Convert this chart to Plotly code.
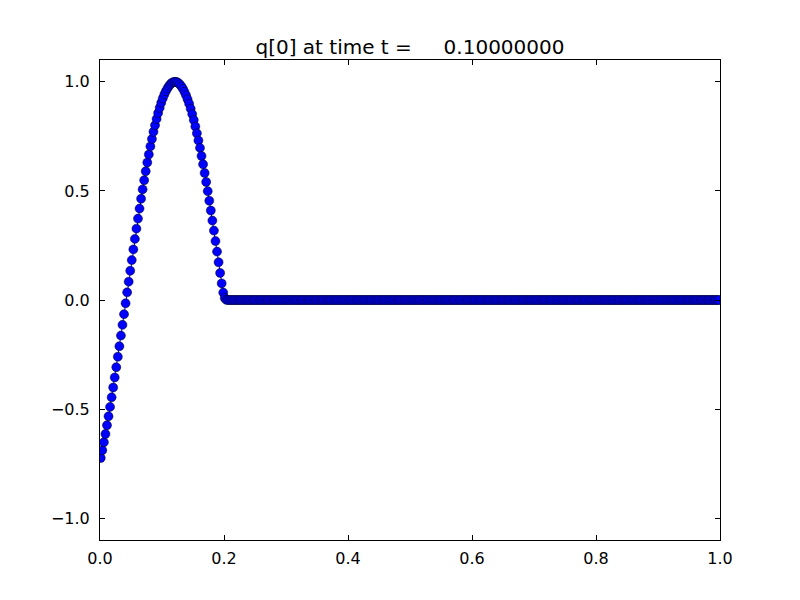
import plotly.graph_objects as go

n_cells = 400
x_centers = [(i + 0.5) / n_cells for i in range(n_cells)]

q_head = [
    -0.724, -0.689, -0.652, -0.614, -0.574, -0.533, -0.490, -0.446, -0.401, -0.355,
    -0.308, -0.260, -0.212, -0.163, -0.114, -0.065, -0.015, 0.035, 0.084, 0.134,
    0.183, 0.232, 0.280, 0.327, 0.373, 0.419, 0.464, 0.507, 0.549, 0.590,
    0.630, 0.667, 0.704, 0.738, 0.771, 0.801, 0.830, 0.857, 0.881, 0.904,
    0.924, 0.942, 0.957, 0.970, 0.981, 0.990, 0.996, 0.999, 1.000, 0.999,
    0.995, 0.988, 0.979, 0.968, 0.954, 0.938, 0.920, 0.900, 0.877, 0.852,
    0.825, 0.795, 0.764, 0.731, 0.697, 0.660, 0.622, 0.582, 0.541, 0.499,
    0.455, 0.410, 0.364, 0.318, 0.270, 0.222, 0.173, 0.124, 0.076, 0.034,
    0.009, 0.001,
]
q_tail = [0.0] * (n_cells - len(q_head))
q_values = q_head + q_tail

x_tick_vals = [0.0, 0.2, 0.4, 0.6, 0.8, 1.0]
x_tick_text = ["0.0", "0.2", "0.4", "0.6", "0.8", "1.0"]
y_tick_vals = [-1.0, -0.5, 0.0, 0.5, 1.0]
y_tick_text = ["\u22121.0", "\u22120.5", "0.0", "0.5", "1.0"]

title_text = "q[0] at time t =     0.10000000"

fig = go.Figure()
fig.add_trace(go.Scatter(
    x=x_centers, y=q_values, mode="lines+markers",
    line=dict(color="#0000ff", width=1),
    marker=dict(size=9, color="#0000ff", line=dict(color="black", width=0.5)),
    showlegend=False,
))

axis_common = dict(
    showgrid=False, zeroline=False, showline=True, linecolor="black", linewidth=1,
    mirror="ticks", ticks="inside", ticklen=5, tickwidth=1, tickcolor="black",
    tickfont=dict(family="DejaVu Sans", size=16, color="black"),
)

fig.update_layout(
    width=800, height=600,
    margin=dict(l=92, r=88, t=52, b=68),
    paper_bgcolor="white", plot_bgcolor="white",
    title=dict(text=title_text, x=0.5, xanchor="center", xref="paper",
               y=1, yref="paper", yanchor="bottom", pad=dict(b=6),
               font=dict(family="DejaVu Sans", size=20, color="black")),
    xaxis=dict(range=[0, 1], tickvals=x_tick_vals, ticktext=x_tick_text,
               ticklabelstandoff=4, **axis_common),
    yaxis=dict(range=[-1.1, 1.1], tickvals=y_tick_vals, ticktext=y_tick_text,
               ticklabelstandoff=6, **axis_common),
)

fig.write_html("out.html")
